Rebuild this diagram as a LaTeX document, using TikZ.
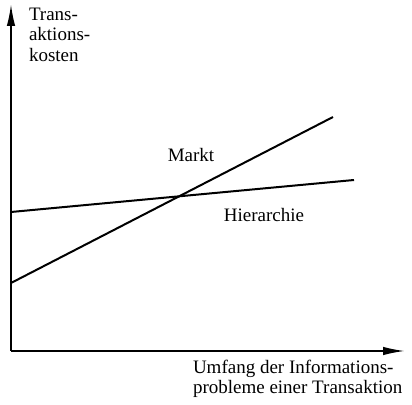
\documentclass[tikz,border=0pt]{standalone}
\usepackage{fontspec}
\setmainfont{Liberation Serif}
\usetikzlibrary{arrows,arrows.meta}

\begin{document}
\begin{tikzpicture}[x=1pt, y=1pt, outer sep=0pt, >={Latex[length=22pt, width=8.5pt]}, font=\fontsize{19}{20.5}\selectfont]

\useasboundingbox (0,0) rectangle (412,404);

\coordinate (O) at (11, 53);
\coordinate (YTIP) at (11, 400);
\coordinate (XTIP) at (405, 53);

\node [anchor=north west, align=left, inner sep=0pt] at (29, 396) (KOSTEN) {Trans-\\aktions-\\kosten};
\node [anchor=north west, align=left, inner sep=0pt] at (193, 44) (UMFANG) {Umfang der Informations-\\probleme einer Transaktion};

%\draw [->, thick] (O) -- (YTIP);
\draw [->, line width=1.8pt] (O) -- (YTIP);
\draw [->, line width=1.8pt] (O) -- (XTIP);

\coordinate (HSTART) at (11, 192);
\coordinate (HEND) at (354, 224);
\coordinate (MSTART) at (11, 121);
\coordinate (MEND) at (333, 287);

\draw [line width=2pt] (HSTART) -- (HEND);
\draw [line width=2pt] (MSTART) -- (MEND);

\node at (191, 249) (MARKT) {Markt};
\node at (264, 189) (HIERARCHIE) {Hierarchie};

\end{tikzpicture}
\end{document}
